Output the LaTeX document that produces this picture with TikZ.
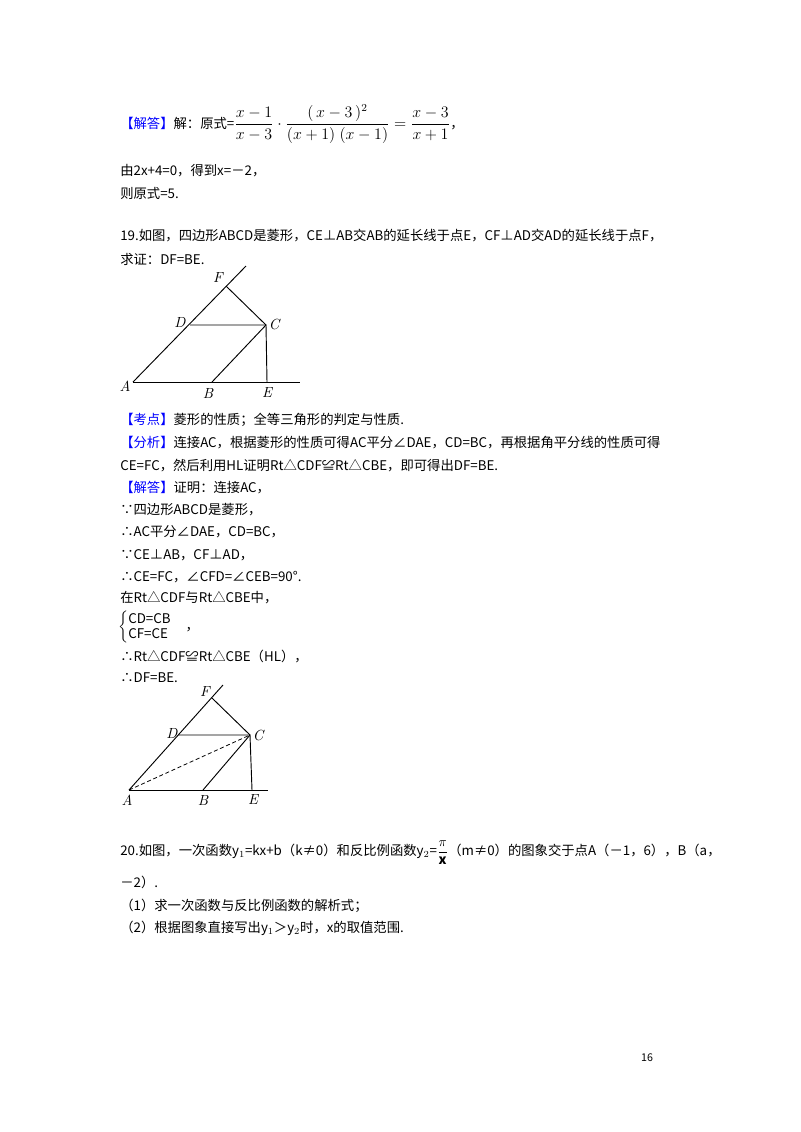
\documentclass[tikz,border=0pt]{standalone}
\usepackage{fontspec}
\setmainfont{Noto Sans CJK SC}
\newfontfamily\lmr{Latin Modern Roman}
\usepackage{amsmath}
\begin{document}
\begin{tikzpicture}[x=0.75pt,y=-0.75pt,
 t/.style={anchor=west,inner sep=0pt,font=\fontsize{10}{12}\selectfont},
 lb/.style={inner sep=0pt,font=\lmr\itshape\fontsize{11}{12}\selectfont},
 ln/.style={line width=0.7pt}]
\useasboundingbox (0,0) rectangle (800,1132);
\fill[white] (0,0) rectangle (800,1132);
\node[t] (l1) at (120,124) {\textcolor{blue}{【解答】}解：原式=\fontsize{12}{14}\selectfont$\dfrac{x-1}{x-3}\cdot\dfrac{(\,x-3\,)^2}{(x+1)\;(x-1)}=\dfrac{x-3}{x+1}$\fontsize{10}{12}\selectfont，};
\node[t] (l2) at (120,171) {由2x+4=0，得到x=－2，};
\node[t] (l3) at (120,193) {则原式=5.};
\node[t] (l4) at (120,236) {19.如图，四边形ABCD是菱形，CE⊥AB交AB的延长线于点E，CF⊥AD交AD的延长线于点F，};
\node[t] (l5) at (120,259) {求证：DF=BE.};
% figure 1
\coordinate (A) at (133,382); \coordinate (B) at (212,382); \coordinate (E) at (267,382);
\coordinate (R) at (300,382); \coordinate (D) at (190,325); \coordinate (C) at (266,325);
\coordinate (F) at (226,286); \coordinate (T) at (246,266);
\draw[ln] (A)--(R); \draw[ln] (A)--(T); \draw[ln] (D)--(C)--(E); \draw[ln] (B)--(C)--(F);
\node[lb] at (218,278) {F}; \node[lb] at (180,322) {D}; \node[lb] at (274,324) {C};
\node[lb] at (125,386) {A}; \node[lb] at (208,393) {B}; \node[lb] at (267,393) {E};
\node[t] (l6) at (120,420) {\textcolor{blue}{【考点】}菱形的性质；全等三角形的判定与性质.};
\node[t] (l7) at (120,443) {\textcolor{blue}{【分析】}连接AC，根据菱形的性质可得AC平分∠DAE，CD=BC，再根据角平分线的性质可得};
\node[t] (l8) at (120,466) {CE=FC，然后利用HL证明Rt△CDF≌Rt△CBE，即可得出DF=BE.};
\node[t] (l9) at (120,488) {\textcolor{blue}{【解答】}证明：连接AC，};
\node[t] (l10) at (120,510) {∵四边形ABCD是菱形，};
\node[t] (l11) at (120,532) {∴AC平分∠DAE，CD=BC，};
\node[t] (l12) at (120,555) {∵CE⊥AB，CF⊥AD，};
\node[t] (l13) at (120,577) {∴CE=FC，∠CFD=∠CEB=90°.};
\node[t] (l14) at (120,598) {在Rt△CDF与Rt△CBE中，};
\node[t] (l15) at (118,627) {$\begin{cases}\text{CD=CB}\\[-3pt] \text{CF=CE}\end{cases}$，};
\node[t] (l16) at (120,656) {∴Rt△CDF≌Rt△CBE（HL），};
\node[t] (l17) at (120,678) {∴DF=BE.};
% figure 2
\coordinate (A2) at (129,790); \coordinate (B2) at (203,790); \coordinate (E2) at (252,790);
\coordinate (R2) at (268,790); \coordinate (D2) at (178,735); \coordinate (C2) at (250,735);
\coordinate (F2) at (212,698); \coordinate (T2) at (223,685);
\draw[ln] (A2)--(R2); \draw[ln] (A2)--(T2); \draw[ln] (D2)--(C2)--(E2); \draw[ln] (B2)--(C2)--(F2);
\draw[densely dashed,line width=0.6pt] (A2)--(C2);
\node[lb] at (205,692) {F}; \node[lb] at (172,733) {D}; \node[lb] at (258,735) {C};
\node[lb] at (127,800) {A}; \node[lb] at (203,800) {B}; \node[lb] at (253,800) {E};
\node[t] (l18) at (120,853) {20.如图，一次函数y$_1$=kx+b（k≠0）和反比例函数y$_2$=$\dfrac{\pi}{\mathbf{x}}$（m≠0）的图象交于点A（－1，6），B（a，};
\node[t] (l19) at (120,882) {－2）.};
\node[t] (l20) at (120,906) {（1）求一次函数与反比例函数的解析式；};
\node[t] (l21) at (120,928) {（2）根据图象直接写出y$_1$＞y$_2$时，x的取值范围.};
\node[inner sep=0pt,font=\fontsize{8}{10}\selectfont] (pg) at (647,1058) {16};
\end{tikzpicture}
\end{document}
